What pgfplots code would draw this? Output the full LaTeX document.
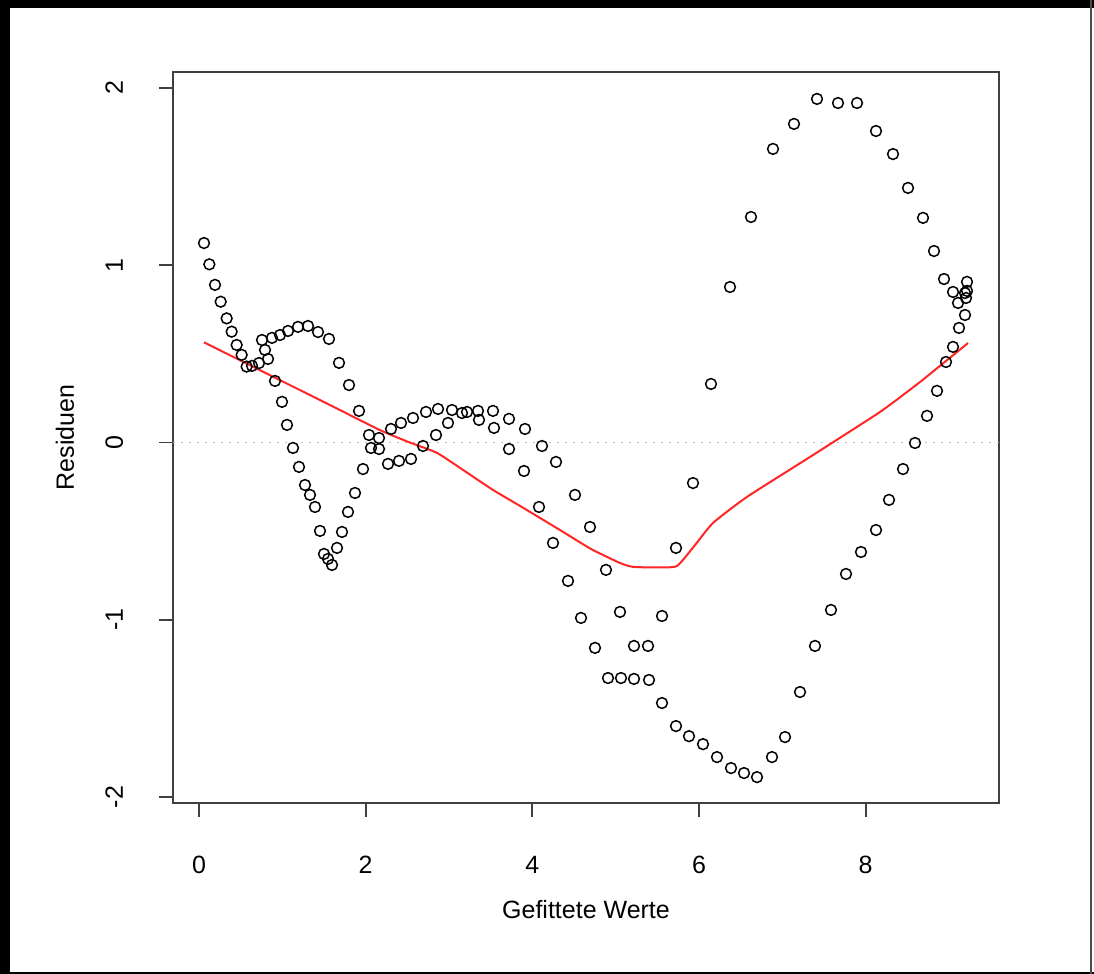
\documentclass[border=0pt]{standalone}
\usepackage{fontspec}
\setmainfont{Liberation Sans}
\usepackage{pgfplots}
\pgfplotsset{compat=1.18}
\begin{document}
\begin{tikzpicture}
\useasboundingbox (0,0) rectangle (547pt,487pt);
\fill[white] (0,0) rectangle (547pt,487pt);
\fill[black] (0,483pt) rectangle (547pt,487pt);
\fill[black] (0,0) rectangle (5pt,487pt);
\draw[black, line width=1pt] (0,0.6pt) -- (547pt,0.6pt);
\draw[black!70, line width=0.8pt] (545.5pt,0) -- (545.5pt,487pt);
\begin{axis}[
  at={(86.5pt,85.5pt)}, anchor=south west,
  scale only axis, width=413pt, height=365.5pt,
  xmin=-0.312, xmax=9.6, ymin=-2.034, ymax=2.09,
  xtick={0,2,4,6,8}, xticklabels={0,2,4,6,8},
  ytick={-2,-1,0,1,2}, yticklabels={-2,-1,0,1,2},
  xtick pos=left, ytick pos=left,
  tick align=outside, major tick length=7pt,
  every tick/.style={black!75, line width=0.9pt},
  axis line style={black!75, line width=0.9pt},
  font=\fontsize{12.5pt}{15pt}\selectfont,
  xticklabel style={anchor=base, inner sep=0pt, yshift=-28.5pt},
  yticklabel style={xshift=-18pt, rotate=90, anchor=base, inner sep=0pt},
  xlabel={Gefittete Werte},
  ylabel={Residuen},
  xlabel style={at={(axis description cs:0.5,0)}, anchor=base, inner sep=0pt, yshift=-58pt},
  ylabel style={at={(axis description cs:0,0.5)}, anchor=base, inner sep=0pt, yshift=49.5pt},
  clip=false,
]
\addplot[color=black!25, line width=0.8pt, dash pattern=on 0.8pt off 3.2pt] coordinates {(-0.312,0) (9.6,0)};
\addplot[only marks, mark=o, mark size=2.7pt, mark options={line width=0.75pt, black}] coordinates {
(0.06,1.125) (0.124,1.005) (0.192,0.889) (0.26,0.794) (0.332,0.70) (0.392,0.625)
(0.452,0.55) (0.512,0.494) (0.572,0.428) (0.636,0.432) (0.72,0.448) (0.828,0.471)
(0.792,0.522) (0.756,0.578) (0.876,0.59) (0.972,0.606) (1.068,0.629) (1.188,0.652)
(1.308,0.657) (1.428,0.623) (1.56,0.584) (1.68,0.449) (1.80,0.324) (1.92,0.178)
(2.04,0.042) (2.064,-0.031) (2.16,0.025) (2.16,-0.037) (2.304,0.076) (2.424,0.110)
(2.568,0.138) (2.724,0.172) (2.868,0.189) (3.036,0.183) (3.156,0.166) (3.216,0.172)
(3.348,0.178) (3.528,0.178) (3.72,0.133) (3.912,0.076) (4.116,-0.020) (4.284,-0.110)
(4.512,-0.296) (4.692,-0.477) (4.884,-0.719) (5.052,-0.956) (5.22,-1.148) (5.388,-1.148)
(5.556,-0.979) (5.724,-0.595) (5.928,-0.229) (6.144,0.330) (6.372,0.877) (6.624,1.272)
(6.888,1.656) (7.14,1.797) (7.416,1.938) (7.668,1.915) (7.896,1.915) (8.124,1.757)
(8.328,1.627) (8.508,1.436) (8.688,1.267) (8.82,1.080) (8.94,0.922) (9.048,0.849)
(9.108,0.787) (9.192,0.843) (9.216,0.855) (9.216,0.906) (9.204,0.815) (9.192,0.719)
(9.12,0.646) (9.048,0.539) (8.964,0.454) (8.856,0.291) (8.736,0.150) (8.592,-0.003)
(8.448,-0.150) (8.28,-0.324) (8.124,-0.494) (7.944,-0.618) (7.764,-0.742) (7.584,-0.945)
(7.392,-1.148) (7.212,-1.408) (7.032,-1.662) (6.876,-1.775) (6.696,-1.888) (6.54,-1.865)
(6.384,-1.837) (6.216,-1.775) (6.048,-1.702) (5.88,-1.657) (5.724,-1.600) (5.556,-1.470)
(5.40,-1.340) (5.22,-1.334) (5.064,-1.329) (4.908,-1.329) (4.752,-1.159) (4.584,-0.990)
(4.428,-0.781) (4.248,-0.567) (4.08,-0.364) (3.90,-0.161) (3.72,-0.037) (3.54,0.082)
(3.36,0.127) (2.988,0.110) (2.844,0.042) (2.688,-0.020) (2.544,-0.093) (2.40,-0.104)
(2.268,-0.121) (1.968,-0.150) (1.872,-0.285) (1.788,-0.392) (1.716,-0.505) (1.656,-0.595)
(1.596,-0.691) (1.548,-0.657) (1.50,-0.629) (1.452,-0.499) (1.392,-0.364) (1.332,-0.296)
(1.272,-0.240) (1.20,-0.138) (1.128,-0.031) (1.056,0.099) (0.996,0.229) (0.912,0.347)
};
\addplot[color=red!85!white, line width=1pt, smooth, tension=0.3] coordinates {
(0.06,0.565) (0.5,0.462) (1.0,0.345) (1.69,0.183) (2.17,0.07) (2.5,0.005) (2.856,-0.059)
(3.2,-0.165) (3.528,-0.268) (3.852,-0.358) (4.332,-0.494) (4.7,-0.60) (5.052,-0.68)
(5.208,-0.702) (5.5,-0.705) (5.736,-0.697) (5.95,-0.58) (6.168,-0.454) (6.576,-0.307)
(7.368,-0.071) (8.172,0.172) (8.652,0.341) (9.228,0.561)
};
\end{axis}
\end{tikzpicture}
\end{document}
